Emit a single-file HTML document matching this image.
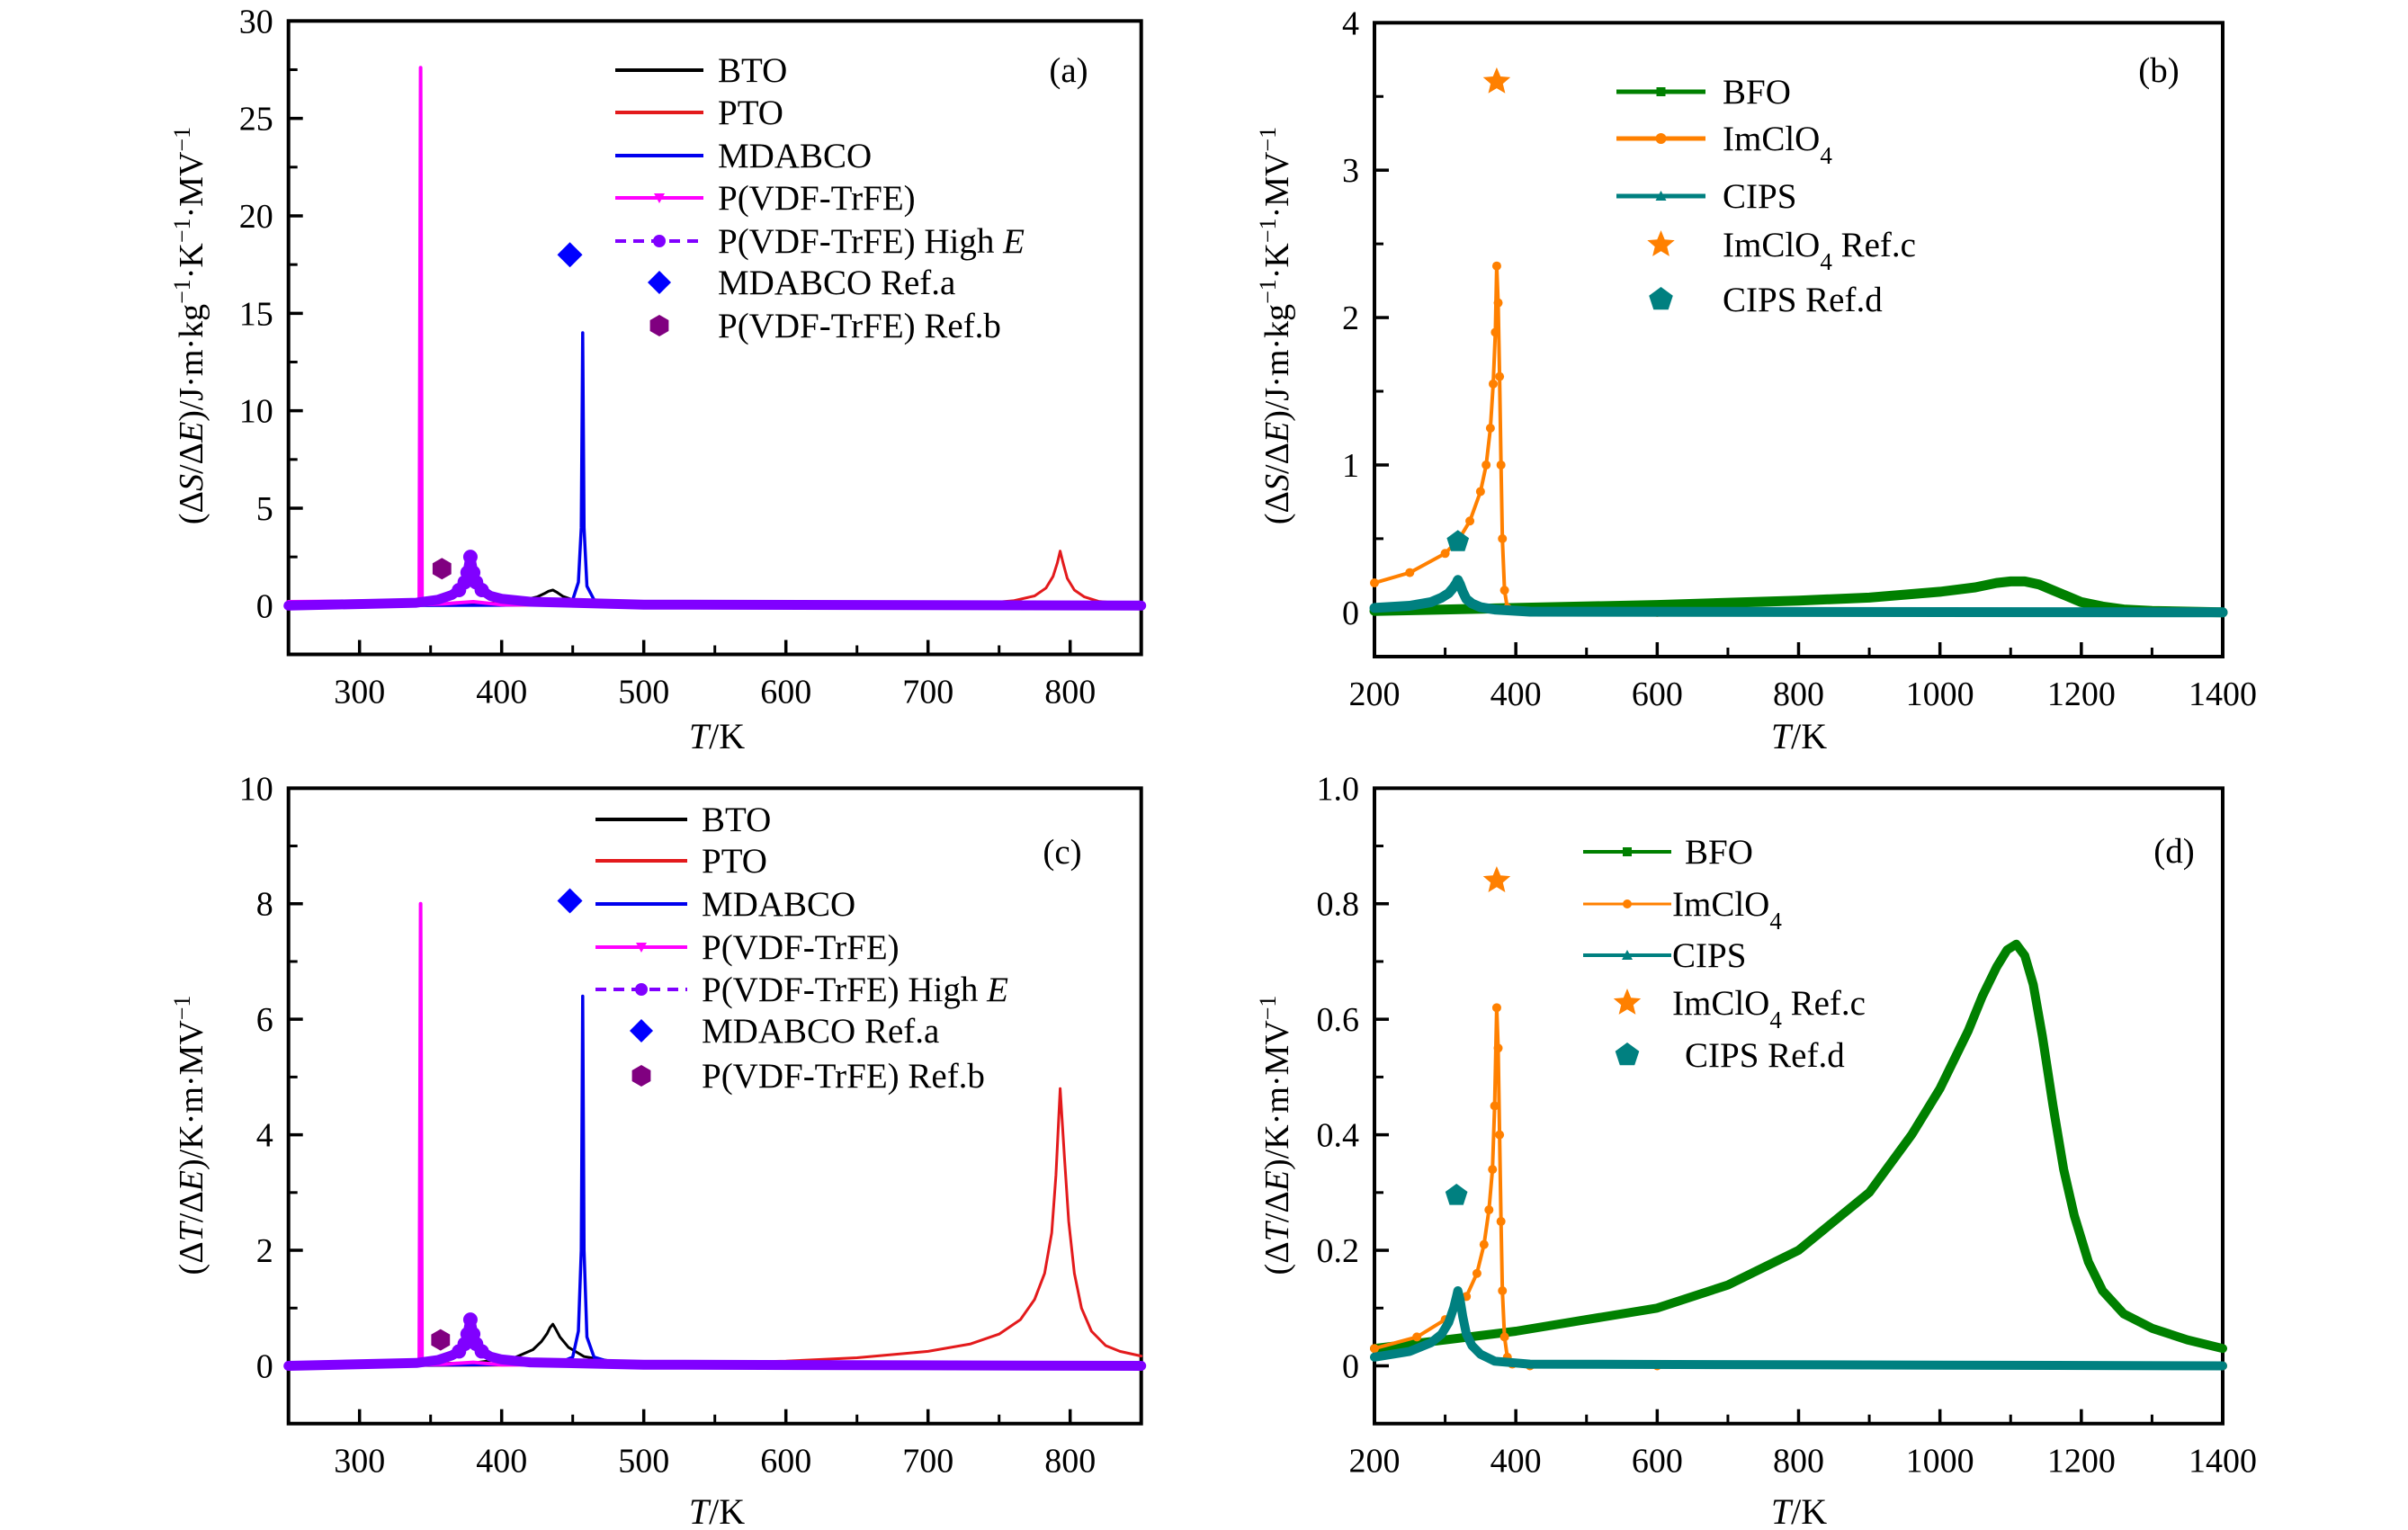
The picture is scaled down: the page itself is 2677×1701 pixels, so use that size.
<!DOCTYPE html>
<html><head><meta charset="utf-8"><style>
html,body{margin:0;padding:0;background:#fff}
svg{display:block;font-family:"Liberation Serif",serif}
</style></head><body>
<svg id="fig" width="2677" height="1701" viewBox="0 0 2677 1701" xmlns="http://www.w3.org/2000/svg"></svg>
<script>
// ---- Panel (a) data: dS/dE ----
const aBtoT=[250,350,400,415,425,430,433,436,439,443,450,460,480,550,850];
const aBtoV=[0.02,0.05,0.15,0.28,0.45,0.62,0.74,0.8,0.68,0.48,0.3,0.15,0.07,0.02,0.01];
const aPtoT=[250,700,740,760,775,783,788,791,793,795,798,803,810,820,835,850];
const aPtoV=[0,0.05,0.12,0.25,0.5,0.9,1.5,2.2,2.8,2.2,1.4,0.8,0.45,0.22,0.12,0.08];
const aMdT=[250,400,440,450,454,456,457,458,460,465,480,850];
const aMdV=[0,0.02,0.1,0.3,1.2,4,14,4,1,0.3,0.08,0];
const aPvT=[250,330,342,343,344,345,360,380,400,850];
const aPvV=[0.2,0.25,0.3,27.6,0.1,0.05,0.1,0.2,0.05,0];
const aHeT=[250,340,355,365,370,374,376,378,380,382,386,392,400,420,500,850];
const aHeV=[0,0.15,0.3,0.55,0.8,1.2,1.7,2.5,1.7,1.2,0.8,0.5,0.35,0.2,0.05,0];
const aRefA=[448,18]; const aRefB=[358,1.9];
// ---- Panel (c) data: dT/dE ----
const cBtoT=[250,380,410,422,428,432,434,436,438,441,447,458,480,600,850];
const cBtoV=[0.02,0.05,0.15,0.28,0.42,0.56,0.66,0.72,0.64,0.5,0.32,0.16,0.07,0.03,0.02];
const cPtoT=[250,400,500,600,650,700,730,750,765,775,782,787,790,793,796,799,803,808,815,825,835,850];
const cPtoV=[0,0.01,0.03,0.08,0.14,0.25,0.38,0.55,0.8,1.15,1.6,2.3,3.3,4.8,3.6,2.5,1.6,1.0,0.6,0.35,0.25,0.17];
const cMdT=[250,400,440,450,454,456,457,458,460,465,480,850];
const cMdV=[0,0.02,0.05,0.15,0.6,2,6.4,2,0.5,0.15,0.04,0];
const cPvT=[250,330,342,343,344,345,360,380,400,850];
const cPvV=[0.05,0.07,0.08,8.0,0.03,0.02,0.03,0.06,0.02,0];
const cHeT=[250,340,355,365,370,374,376,378,380,382,386,392,400,420,500,850];
const cHeV=[0,0.05,0.1,0.18,0.25,0.38,0.55,0.8,0.55,0.38,0.25,0.16,0.11,0.06,0.02,0];
const cRefA=[448,8.05]; const cRefB=[357,0.45];
// ---- Panel (b) data ----
const bBfoT=[200,300,400,600,800,900,1000,1050,1080,1100,1120,1140,1160,1180,1200,1230,1260,1300,1400];
const bBfoV=[0.01,0.02,0.03,0.05,0.08,0.1,0.14,0.17,0.2,0.21,0.21,0.19,0.15,0.11,0.07,0.04,0.02,0.01,0];
const bImT=[200,250,300,320,335,350,358,364,368,371,373,375,377,379,381,384,388,400,600,1400];
const bImV=[0.2,0.27,0.4,0.5,0.62,0.82,1.0,1.25,1.55,1.9,2.35,2.1,1.6,1.0,0.5,0.15,0.03,0.01,0,0];
const bCiT=[200,250,280,295,305,312,316,318,321,325,330,338,350,370,420,1400];
const bCiV=[0.03,0.045,0.07,0.1,0.13,0.17,0.2,0.22,0.19,0.14,0.09,0.06,0.035,0.02,0.005,0];
const bRefC=[373,3.6]; const bRefD=[318,0.48];
// ---- Panel (d) data ----
const dBfoT=[200,300,400,500,600,700,800,900,960,1000,1040,1060,1080,1095,1108,1120,1132,1145,1160,1175,1190,1210,1230,1260,1300,1350,1400];
const dBfoV=[0.03,0.045,0.06,0.08,0.1,0.14,0.2,0.3,0.4,0.48,0.58,0.64,0.69,0.72,0.73,0.71,0.66,0.57,0.45,0.34,0.26,0.18,0.13,0.09,0.065,0.045,0.03];
const dImT=[200,260,300,330,345,355,362,367,370,373,375,377,379,381,384,388,395,420,600,1400];
const dImV=[0.03,0.05,0.08,0.12,0.16,0.21,0.27,0.34,0.45,0.62,0.55,0.4,0.25,0.13,0.05,0.015,0.003,0,0,0];
const dCiT=[200,250,280,295,305,312,316,318,321,325,330,338,350,370,420,1400];
const dCiV=[0.015,0.025,0.04,0.055,0.075,0.1,0.12,0.13,0.115,0.085,0.055,0.035,0.02,0.008,0.003,0];
const dRefC=[373,0.84]; const dRefD=[316,0.295];
// tick values
const aXTicks=[300,400,500,600,700,800]; const aYTicks=[0,5,10,15,20,25,30];
const bXTicks=[200,400,600,800,1000,1200,1400]; const bYTicks=[0,1,2,3,4];
const cYTicks=[0,2,4,6,8,10]; const dYTicks=[0,0.2,0.4,0.6,0.8,1.0];
const dYLabels=['0','0.2','0.4','0.6','0.8','1.0'];

const NS='http://www.w3.org/2000/svg';
const svg=document.getElementById('fig');
function el(tag,attrs,parent){const e=document.createElementNS(NS,tag);for(const k in attrs)e.setAttribute(k,attrs[k]);(parent||svg).appendChild(e);return e;}

function panel(name,px0,px1,py0,py1,xd0,xd1,yd0,yd1){
  const g=el('g',{});
  
  
  const sx=v=>px0+(v-xd0)/(xd1-xd0)*(px1-px0);
  const sy=v=>py1-(v-yd0)/(yd1-yd0)*(py1-py0);
  return {g,sx,sy,px0,px1,py0,py1};
}
function frame(P,name){
  const r=el('rect',{x:P.px0,y:P.py0,width:P.px1-P.px0,height:P.py1-P.py0,fill:'none',stroke:'#000','stroke-width':4},P.g);
  
  
}
function xTicks(P,ticks,minorStep,name){
  const g=el('g',{},P.g);
  
  
  for(let i=0;i<ticks.length;i++){
    const x=P.sx(ticks[i]);
    el('line',{x1:x,x2:x,y1:P.py1,y2:P.py1-16,stroke:'#000','stroke-width':3.5},g);
    const t=el('text',{x:x,y:P.py1+54,'font-size':38,'text-anchor':'middle'},g);t.textContent=ticks[i];
    const xm=P.sx(ticks[i]+minorStep);
    if(xm<P.px1-2) el('line',{x1:xm,x2:xm,y1:P.py1,y2:P.py1-10,stroke:'#000','stroke-width':3},g);
    const xm2=P.sx(ticks[i]-minorStep);
    if(i==0&&xm2>P.px0+2) el('line',{x1:xm2,x2:xm2,y1:P.py1,y2:P.py1-10,stroke:'#000','stroke-width':3},g);
  }
}
function yTicks(P,ticks,labels,minorStep,name){
  const g=el('g',{},P.g);
  
  
  for(let i=0;i<ticks.length;i++){
    const y=P.sy(ticks[i]);
    el('line',{x1:P.px0,x2:P.px0+16,y1:y,y2:y,stroke:'#000','stroke-width':3.5},g);
    const t=el('text',{x:P.px0-17,y:y+13,'font-size':38,'text-anchor':'end'},g);t.textContent=labels[i];
    const ym=P.sy(ticks[i]+minorStep);
    if(ym>P.py0+2) el('line',{x1:P.px0,x2:P.px0+10,y1:ym,y2:ym,stroke:'#000','stroke-width':3},g);
  }
}
function series(P,T,V,color,w,name,opts){
  opts=opts||{};
  let d='';
  for(let i=0;i<T.length;i++){d+=(i?'L':'M')+P.sx(T[i]).toFixed(1)+','+P.sy(V[i]).toFixed(1);}
  const p=el('path',{d:d,fill:'none',stroke:color,'stroke-width':w,'stroke-linejoin':'round','stroke-linecap':'round'},P.g);
  if(opts.dash)p.setAttribute('stroke-dasharray',opts.dash);
  
  
  if(opts.marker){
    for(let i=0;i<T.length;i++){
      if(opts.markerMin!==undefined&&V[i]<opts.markerMin)continue;
      const c=el('circle',{cx:P.sx(T[i]),cy:P.sy(V[i]),r:opts.marker,fill:color},P.g);
      
      
    }
  }
}
function diamond(g,x,y,s,color){return el('polygon',{points:`${x},${y-s} ${x+s},${y} ${x},${y+s} ${x-s},${y}`,fill:color},g);}
function hexagon(g,x,y,s,color){let p=[];for(let k=0;k<6;k++){const a=Math.PI/6+k*Math.PI/3;p.push((x+s*Math.cos(a)).toFixed(1)+','+(y+s*Math.sin(a)).toFixed(1));}return el('polygon',{points:p.join(' '),fill:color},g);}
function pentagon(g,x,y,s,color){let p=[];for(let k=0;k<5;k++){const a=-Math.PI/2+k*2*Math.PI/5;p.push((x+s*Math.cos(a)).toFixed(1)+','+(y+s*Math.sin(a)).toFixed(1));}return el('polygon',{points:p.join(' '),fill:color},g);}
function star(g,x,y,s,color){let p=[];for(let k=0;k<10;k++){const a=-Math.PI/2+k*Math.PI/5;const r=k%2?s*0.45:s;p.push((x+r*Math.cos(a)).toFixed(1)+','+(y+r*Math.sin(a)).toFixed(1));}return el('polygon',{points:p.join(' '),fill:color},g);}
function refMark(P,shape,pt,s,color,name){const e=shape(P.g,P.sx(pt[0]),P.sy(pt[1]),s,color);}
function text(g,x,y,html,size,anchor,name){
  const t=el('text',{x:x,y:y,'font-size':size,'text-anchor':anchor||'start'},g);
  t.innerHTML=html;
  
  
  return t;
}
function legendEntry(g,x1,x2,tx,y,kind,color,label,name,extra){
  const e=el('g',{},g);
  
  
  const xm=(x1+x2)/2;
  if(kind==='line'||kind==='dash'){
    const l=el('line',{x1:x1,x2:x2,y1:y,y2:y,stroke:color,'stroke-width':extra&&extra.w||4},e);
    if(kind==='dash')l.setAttribute('stroke-dasharray','12,8');
    if(extra&&extra.m==='circle')el('circle',{cx:xm,cy:y,r:extra.r||7,fill:color},e);
    if(extra&&extra.m==='tri')el('polygon',{points:`${xm-6},${y-5} ${xm+6},${y-5} ${xm},${y+6}`,fill:color},e);
    if(extra&&extra.m==='triup')el('polygon',{points:`${xm-6},${y+5} ${xm+6},${y+5} ${xm},${y-6}`,fill:color},e);
    if(extra&&extra.m==='sq')el('rect',{x:xm-5,y:y-5,width:10,height:10,fill:color},e);
  } else if(kind==='diamond') diamond(e,xm,y,13,color);
  else if(kind==='hex') hexagon(e,xm,y,12,color);
  else if(kind==='star') star(e,xm,y,16,color);
  else if(kind==='pent') pentagon(e,xm,y,14,color);
  text(e,tx,y+13,label,39,'start',name+'-label');
}

// ===== Panel (a) =====
let A=panel('panel-a',320.7,1268.7,23.3,727.5,250,850,-2.5,30);
frame(A,'panel-a-frame');
xTicks(A,aXTicks,50,'panel-a-x-axis');
yTicks(A,aYTicks,aYTicks.map(String),2.5,'panel-a-y-axis');
series(A,aPtoT,aPtoV,'#e31a1c',3,'pto-line-a');
series(A,aBtoT,aBtoV,'#000',3,'bto-line-a');
series(A,aMdT,aMdV,'#0000ee',3.5,'mdabco-line-a');
series(A,aPvT,aPvV,'#ff00ff',4,'pvdf-line-a');
series(A,aHeT,aHeV,'#8000ff',11,'pvdf-highe-line-a',{marker:8,markerMin:0.7});
refMark(A,diamond,aRefA,14,'#0000ff','mdabco-ref-a-marker');
refMark(A,hexagon,aRefB,12,'#800080','pvdf-ref-b-marker');
text(A.g,1188,91,'(a)',39,'middle','panel-a-label');
{const L=el('g',{},A.g);


legendEntry(L,684,782,798,78,'line','#000','BTO','legend-bto-a');
legendEntry(L,684,782,798,125,'line','#e31a1c','PTO','legend-pto-a');
legendEntry(L,684,782,798,173,'line','#0000ee','MDABCO','legend-mdabco-a');
legendEntry(L,684,782,798,220,'line','#ff00ff','P(VDF-TrFE)','legend-pvdf-a',{m:'tri'});
legendEntry(L,684,782,798,268,'dash','#8000ff','P(VDF-TrFE) High <tspan font-style="italic">E</tspan>','legend-highe-a',{m:'circle'});
legendEntry(L,684,782,798,314,'diamond','#0000ff','MDABCO Ref.a','legend-ref-a-a');
legendEntry(L,684,782,798,362,'hex','#800080','P(VDF-TrFE) Ref.b','legend-ref-b-a');}
text(A.g,0,0,'(Δ<tspan font-style="italic">S</tspan>/Δ<tspan font-style="italic">E</tspan>)/J·m·kg<tspan baseline-shift="super" font-size="26">−1</tspan>·K<tspan baseline-shift="super" font-size="26">−1</tspan>·MV<tspan baseline-shift="super" font-size="26">−1</tspan>',38,'middle','panel-a-y-title').setAttribute('transform','translate(225,362) rotate(-90)');
text(A.g,797,832,'<tspan font-style="italic">T</tspan>/K',40,'middle','panel-a-x-title');

// ===== Panel (b) =====
let B=panel('panel-b',1528,2471,25.3,730,200,1400,-0.3,4);
frame(B,'panel-b-frame');
xTicks(B,bXTicks,100,'panel-b-x-axis');
yTicks(B,bYTicks,bYTicks.map(String),0.5,'panel-b-y-axis');
series(B,bBfoT,bBfoV,'#008000',11,'bfo-line-b');
series(B,bImT,bImV,'#ff8000',4,'imclo4-line-b',{marker:5});
series(B,bCiT,bCiV,'#008080',11,'cips-line-b');
refMark(B,star,bRefC,16,'#ff8000','imclo4-ref-c-marker-b');
refMark(B,pentagon,bRefD,13,'#008080','cips-ref-d-marker-b');
text(B.g,2400,91,'(b)',39,'middle','panel-b-label');
{const L=el('g',{},B.g);


legendEntry(L,1797,1896,1915,102,'line','#008000','BFO','legend-bfo-b',{m:'sq',w:5});
legendEntry(L,1797,1896,1915,154,'line','#ff8000','ImClO<tspan baseline-shift="sub" font-size="27">4</tspan>','legend-imclo4-b',{m:'circle',r:6,w:5});
legendEntry(L,1797,1896,1915,218,'line','#008080','CIPS','legend-cips-b',{m:'triup',w:5});
legendEntry(L,1797,1896,1915,272,'star','#ff8000','ImClO<tspan baseline-shift="sub" font-size="27">4</tspan> Ref.c','legend-ref-c-b');
legendEntry(L,1797,1896,1915,333,'pent','#008080','CIPS Ref.d','legend-ref-d-b');}
text(B.g,0,0,'(Δ<tspan font-style="italic">S</tspan>/Δ<tspan font-style="italic">E</tspan>)/J·m·kg<tspan baseline-shift="super" font-size="26">−1</tspan>·K<tspan baseline-shift="super" font-size="26">−1</tspan>·MV<tspan baseline-shift="super" font-size="26">−1</tspan>',38,'middle','panel-b-y-title').setAttribute('transform','translate(1432,362) rotate(-90)');
text(B.g,2000,832,'<tspan font-style="italic">T</tspan>/K',40,'middle','panel-b-x-title');

// ===== Panel (c) =====
let C=panel('panel-c',320.7,1268.7,876.3,1582.7,250,850,-1,10);
frame(C,'panel-c-frame');
xTicks(C,aXTicks,50,'panel-c-x-axis');
yTicks(C,cYTicks,cYTicks.map(String),1,'panel-c-y-axis');
series(C,cPtoT,cPtoV,'#e31a1c',3,'pto-line-c');
series(C,cBtoT,cBtoV,'#000',3,'bto-line-c');
series(C,cMdT,cMdV,'#0000ee',3.5,'mdabco-line-c');
series(C,cPvT,cPvV,'#ff00ff',4,'pvdf-line-c');
series(C,cHeT,cHeV,'#8000ff',11,'pvdf-highe-line-c',{marker:8,markerMin:0.2});
refMark(C,diamond,cRefA,14,'#0000ff','mdabco-ref-a-marker-c');
refMark(C,hexagon,cRefB,12,'#800080','pvdf-ref-b-marker-c');
text(C.g,1181,960,'(c)',39,'middle','panel-c-label');
{const L=el('g',{},C.g);


legendEntry(L,662,764,780,911,'line','#000','BTO','legend-bto-c');
legendEntry(L,662,764,780,957,'line','#e31a1c','PTO','legend-pto-c');
legendEntry(L,662,764,780,1005,'line','#0000ee','MDABCO','legend-mdabco-c');
legendEntry(L,662,764,780,1053,'line','#ff00ff','P(VDF-TrFE)','legend-pvdf-c',{m:'tri'});
legendEntry(L,662,764,780,1100,'dash','#8000ff','P(VDF-TrFE) High <tspan font-style="italic">E</tspan>','legend-highe-c',{m:'circle'});
legendEntry(L,662,764,780,1146,'diamond','#0000ff','MDABCO Ref.a','legend-ref-a-c');
legendEntry(L,662,764,780,1196,'hex','#800080','P(VDF-TrFE) Ref.b','legend-ref-b-c');}
text(C.g,0,0,'(Δ<tspan font-style="italic">T</tspan>/Δ<tspan font-style="italic">E</tspan>)/K·m·MV<tspan baseline-shift="super" font-size="26">−1</tspan>',38,'middle','panel-c-y-title').setAttribute('transform','translate(225,1262) rotate(-90)');
text(C.g,797,1694,'<tspan font-style="italic">T</tspan>/K',40,'middle','panel-c-x-title');

// ===== Panel (d) =====
let D=panel('panel-d',1528,2471,876.3,1582.7,200,1400,-0.1,1.0);
frame(D,'panel-d-frame');
xTicks(D,bXTicks,100,'panel-d-x-axis');
yTicks(D,dYTicks,dYLabels,0.1,'panel-d-y-axis');
series(D,dBfoT,dBfoV,'#008000',10,'bfo-line-d');
series(D,dImT,dImV,'#ff8000',4,'imclo4-line-d',{marker:5});
series(D,dCiT,dCiV,'#008080',10,'cips-line-d');
refMark(D,star,dRefC,16,'#ff8000','imclo4-ref-c-marker-d');
refMark(D,pentagon,dRefD,13,'#008080','cips-ref-d-marker-d');
text(D.g,2417,959,'(d)',39,'middle','panel-d-label');
{const L=el('g',{},D.g);


legendEntry(L,1760,1858,1873,947,'line','#008000','BFO','legend-bfo-d',{m:'sq',w:4});
legendEntry(L,1760,1858,1859,1005,'line','#ff8000','ImClO<tspan baseline-shift="sub" font-size="27">4</tspan>','legend-imclo4-d',{m:'circle',r:5,w:3});
legendEntry(L,1760,1858,1859,1062,'line','#008080','CIPS','legend-cips-d',{m:'triup',w:4});
legendEntry(L,1760,1858,1859,1115,'star','#ff8000','ImClO<tspan baseline-shift="sub" font-size="27">4</tspan> Ref.c','legend-ref-c-d');
legendEntry(L,1760,1858,1873,1173,'pent','#008080','CIPS Ref.d','legend-ref-d-d');}
text(D.g,0,0,'(Δ<tspan font-style="italic">T</tspan>/Δ<tspan font-style="italic">E</tspan>)/K·m·MV<tspan baseline-shift="super" font-size="26">−1</tspan>',38,'middle','panel-d-y-title').setAttribute('transform','translate(1432,1262) rotate(-90)');
text(D.g,2000,1694,'<tspan font-style="italic">T</tspan>/K',40,'middle','panel-d-x-title');
</script>
</body></html>
